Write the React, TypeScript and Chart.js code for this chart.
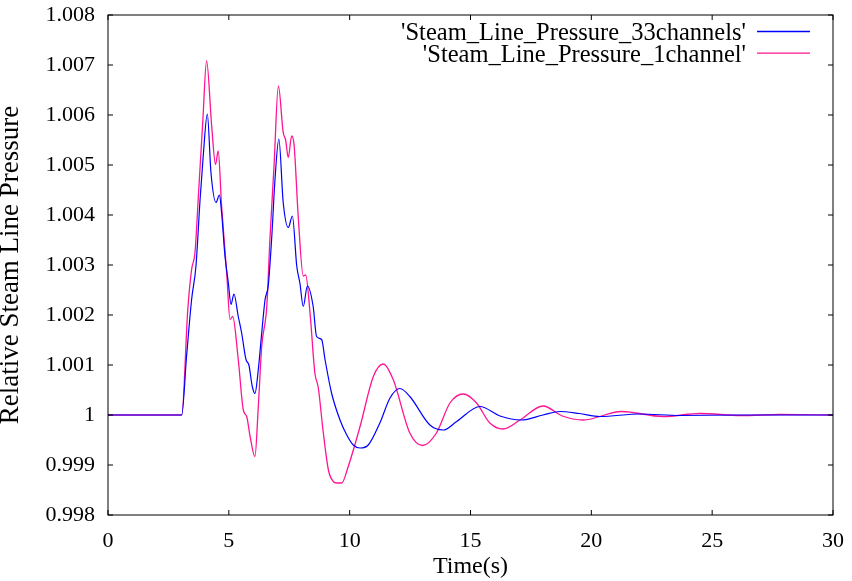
import React, { useEffect, useRef } from "react";
import { Chart, registerables } from "chart.js";

Chart.register(...registerables);

const timeBlue = [0, 3.05, 3.25, 3.46, 3.64, 3.81, 3.94, 4.11, 4.26, 4.47, 4.61, 4.7, 4.84, 4.98, 5.09, 5.21, 5.39, 5.53, 5.71, 5.83, 5.97, 6.08, 6.22, 6.36, 6.5, 6.63, 6.77, 6.91, 7.07, 7.25, 7.46, 7.63, 7.81, 7.94, 8.08, 8.25, 8.49, 8.63, 8.84, 8.98, 9.25, 9.6, 9.88, 10.15, 10.43, 10.77, 11.25, 11.67, 12.08, 12.49, 13.32, 13.87, 14.43, 15.39, 16.22, 17.1, 18.0, 18.7, 19.5, 20.36, 22.0, 23.7, 26.0, 30.0];
const pressureBlue = [1.0, 1.0, 1.00117, 1.00231, 1.00298, 1.00431, 1.00518, 1.00602, 1.00485, 1.00425, 1.0044, 1.00405, 1.00318, 1.00264, 1.00221, 1.00242, 1.00197, 1.00164, 1.00111, 1.001, 1.00057, 1.00043, 1.00091, 1.00164, 1.00231, 1.00258, 1.00351, 1.00471, 1.00552, 1.00425, 1.00375, 1.00398, 1.00298, 1.00264, 1.00217, 1.00258, 1.00217, 1.00157, 1.00151, 1.00111, 1.00044, 0.9999, 0.9996, 0.9994, 0.99934, 0.9994, 0.99984, 1.00034, 1.00053, 1.00037, 0.9998, 0.9997, 0.99987, 1.00017, 0.99998, 0.9999, 1.0, 1.00007, 1.00003, 0.99997, 1.00002, 0.99999, 1.0, 1.0];

const timeRed = [0, 3.05, 3.3, 3.46, 3.6, 3.74, 3.92, 4.08, 4.29, 4.45, 4.56, 4.7, 4.91, 5.05, 5.16, 5.39, 5.6, 5.74, 5.88, 6.08, 6.22, 6.36, 6.57, 6.7, 6.87, 7.05, 7.25, 7.35, 7.46, 7.6, 7.7, 7.87, 8.08, 8.18, 8.36, 8.56, 8.7, 8.91, 9.12, 9.32, 9.46, 9.67, 9.94, 10.43, 10.98, 11.39, 11.8, 12.49, 13.02, 13.59, 14.15, 14.7, 15.25, 15.8, 16.35, 17.05, 18.0, 18.8, 19.66, 21.25, 22.97, 24.5, 26.2, 27.8, 30.0];
const pressureRed = [1.0, 1.0, 1.0021, 1.00291, 1.00325, 1.00438, 1.00585, 1.00708, 1.00578, 1.00501, 1.00528, 1.00418, 1.00285, 1.00191, 1.00197, 1.00111, 1.0001, 0.99997, 0.99957, 0.99917, 1.00017, 1.00137, 1.00217, 1.00351, 1.00498, 1.00658, 1.00565, 1.0055, 1.00515, 1.00558, 1.0054, 1.00398, 1.00278, 1.0028, 1.00204, 1.00084, 1.00055, 0.99964, 0.9989, 0.99867, 0.99864, 0.99864, 0.99897, 0.99977, 1.00077, 1.00102, 1.00071, 0.99964, 0.99939, 0.99964, 1.00024, 1.00042, 1.00024, 0.99984, 0.99972, 0.9999, 1.00018, 0.99998, 0.9999, 1.00007, 0.99997, 1.00003, 0.99999, 1.00001, 1.0];

const xTickValues = [0, 5, 10, 15, 20, 25, 30];
const xTickLabels = ["0", "5", "10", "15", "20", "25", "30"];
const yTickValues = [0.998, 0.999, 1.0, 1.001, 1.002, 1.003, 1.004, 1.005, 1.006, 1.007, 1.008];
const yTickLabels = ["0.998", "0.999", "1", "1.001", "1.002", "1.003", "1.004", "1.005", "1.006", "1.007", "1.008"];

const seriesLabels = ["'Steam_Line_Pressure_33channels'", "'Steam_Line_Pressure_1channel'"];
const seriesColors = ["#0000ff", "#ff1493"];
const xTitle = "Time(s)";
const yTitle = "Relative Steam Line Pressure";

const FONT = '"Liberation Serif", "Times New Roman", Times, serif';

const framePlugin = {
  id: "gnuFrame",
  afterDatasetsDraw(chart: any) {
    const { ctx, chartArea: a, scales } = chart;
    ctx.save();
    ctx.strokeStyle = "#000";
    ctx.lineWidth = 1;
    ctx.strokeRect(a.left, a.top, a.right - a.left, a.bottom - a.top);
    const L = 5;
    ctx.beginPath();
    xTickValues.forEach((v) => {
      const px = scales.x.getPixelForValue(v);
      ctx.moveTo(px, a.bottom);
      ctx.lineTo(px, a.bottom - L);
      ctx.moveTo(px, a.top);
      ctx.lineTo(px, a.top + L);
    });
    yTickValues.forEach((v) => {
      const py = scales.y.getPixelForValue(v);
      ctx.moveTo(a.left, py);
      ctx.lineTo(a.left + L, py);
      ctx.moveTo(a.right, py);
      ctx.lineTo(a.right - L, py);
    });
    ctx.stroke();

    ctx.font = `24.5px ${FONT}`;
    ctx.textAlign = "right";
    ctx.textBaseline = "alphabetic";
    chart.data.datasets.forEach((ds: any, i: number) => {
      const baseY = a.top + 25 + i * 21.7;
      ctx.fillStyle = "#000";
      ctx.fillText(ds.label, a.right - 87, baseY);
      ctx.strokeStyle = ds.borderColor;
      ctx.lineWidth = 1.3;
      ctx.beginPath();
      ctx.moveTo(a.right - 76, baseY - 8.5);
      ctx.lineTo(a.right - 23, baseY - 8.5);
      ctx.stroke();
    });
    ctx.restore();
  },
};

export default function App() {
  const canvasRef = useRef<HTMLCanvasElement | null>(null);

  useEffect(() => {
    document.body.style.margin = "0";
    const canvas = canvasRef.current;
    if (!canvas) return;
    const chart = new Chart(canvas, {
      type: "line",
      data: {
        datasets: [
          {
            label: seriesLabels[0],
            data: timeBlue.map((t, i) => ({ x: t, y: pressureBlue[i] })),
            borderColor: seriesColors[0],
            borderWidth: 1.2,
            pointRadius: 0,
            cubicInterpolationMode: "monotone",
            fill: false,
          },
          {
            label: seriesLabels[1],
            data: timeRed.map((t, i) => ({ x: t, y: pressureRed[i] })),
            borderColor: seriesColors[1],
            borderWidth: 1.3,
            pointRadius: 0,
            cubicInterpolationMode: "monotone",
            fill: false,
          },
        ],
      },
      options: {
        animation: false,
        responsive: false,
        devicePixelRatio: 1,
        layout: { padding: { top: 15, right: 19, left: 0, bottom: 0 } },
        plugins: {
          legend: { display: false },
          tooltip: { enabled: false },
        },
        scales: {
          x: {
            type: "linear",
            min: 0,
            max: 30,
            afterBuildTicks: (s: any) => {
              s.ticks = xTickValues.map((v) => ({ value: v }));
            },
            afterFit: (s: any) => {
              s.height = 66;
              s.paddingLeft = 0;
              s.paddingRight = 0;
              s.paddingTop = 0;
              s.paddingBottom = 0;
            },
            ticks: {
              callback: (v: any) => xTickLabels[xTickValues.indexOf(Number(v))],
              font: { family: FONT, size: 22 },
              color: "#000",
              padding: 13,
              maxRotation: 0,
              autoSkip: false,
            },
            grid: { display: false, drawTicks: false },
            border: { display: false },
            title: {
              display: true,
              text: xTitle,
              color: "#000",
              font: { family: FONT, size: 24, lineHeight: 1 },
              padding: { top: 0, bottom: 2 },
            },
          },
          y: {
            type: "linear",
            min: 0.998,
            max: 1.008,
            afterBuildTicks: (s: any) => {
              s.ticks = yTickValues.map((v) => ({ value: v }));
            },
            afterFit: (s: any) => {
              s.width = 108;
              s.paddingLeft = 0;
              s.paddingRight = 0;
              s.paddingTop = 0;
              s.paddingBottom = 0;
            },
            ticks: {
              callback: (v: any) => yTickLabels[yTickValues.indexOf(Number(v))],
              font: { family: FONT, size: 22 },
              color: "#000",
              padding: 13,
              autoSkip: false,
            },
            grid: { display: false, drawTicks: false },
            border: { display: false },
            title: {
              display: true,
              text: yTitle,
              color: "#000",
              font: { family: FONT, size: 27, lineHeight: 0.82 },
              padding: { top: 0, bottom: 0 },
            },
          },
        },
      },
      plugins: [framePlugin],
    } as any);
    return () => chart.destroy();
  }, []);

  return (
    <div style={{ width: 852, height: 581, background: "#fff" }}>
      <canvas ref={canvasRef} width={852} height={581} style={{ display: "block" }} />
    </div>
  );
}
